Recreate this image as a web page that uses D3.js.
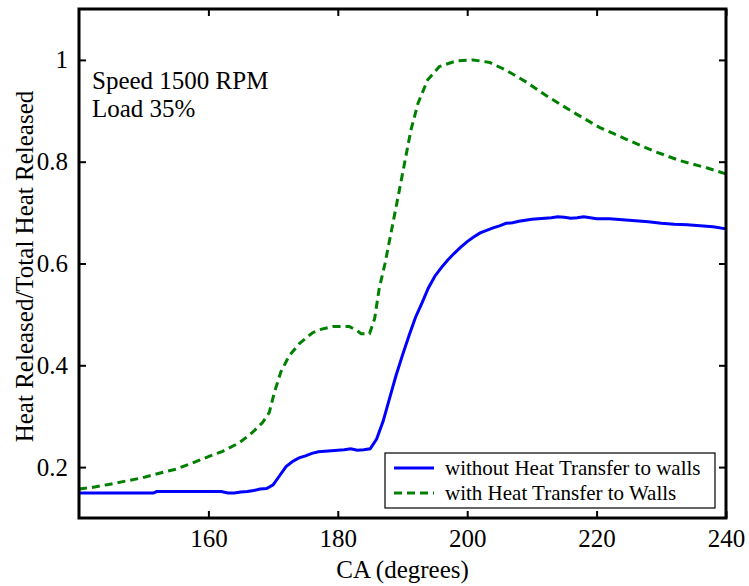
<!DOCTYPE html>
<html>
<head>
<meta charset="utf-8">
<script src="https://cdn.jsdelivr.net/npm/d3@7"></script>
<style>
  body { margin: 0; background: #fff; }
  text { font-family: "Liberation Serif", "Times New Roman", serif; }
</style>
</head>
<body>
<div id="chart"></div>
<script>
// crank angle (degrees) and normalised heat released
const caNoHT = [140, 145, 151.5, 152, 157, 162, 163, 164, 165, 166, 167, 168, 169, 170, 171, 172, 173, 174, 175, 176, 177, 178, 179, 180, 181, 182, 183, 184, 185, 186, 187, 188, 189, 190, 191, 192, 193, 194, 195, 196, 197, 198, 199, 200, 201, 202, 203, 204, 205, 206, 207, 208, 210, 212, 213, 214, 215, 216, 217, 218, 219, 220, 222, 224, 226, 228, 230, 232, 234, 236, 238, 240];
const hrNoHT = [0.149, 0.149, 0.149, 0.152, 0.152, 0.152, 0.149, 0.149, 0.151, 0.152, 0.154, 0.157, 0.158, 0.165, 0.183, 0.201, 0.211, 0.218, 0.222, 0.227, 0.230, 0.231, 0.232, 0.233, 0.234, 0.236, 0.233, 0.234, 0.236, 0.255, 0.290, 0.335, 0.380, 0.420, 0.458, 0.494, 0.522, 0.552, 0.575, 0.592, 0.607, 0.620, 0.632, 0.643, 0.652, 0.660, 0.665, 0.670, 0.674, 0.679, 0.680, 0.683, 0.687, 0.689, 0.690, 0.692, 0.691, 0.689, 0.690, 0.692, 0.690, 0.688, 0.688, 0.686, 0.684, 0.682, 0.679, 0.677, 0.676, 0.674, 0.672, 0.668];

const caHT = [140, 142, 144.6, 147, 149.8, 152.4, 155, 157.5, 160.1, 162.2, 164.8, 166.8, 168.4, 169.4, 170.2, 171.2, 172.5, 174.1, 176.1, 177.5, 179.2, 181.8, 183, 183.6, 184.9, 185.7, 186.4, 187.3, 188.3, 189.3, 190.3, 191.3, 192.4, 193.9, 195.7, 198.3, 200.9, 203.5, 206.1, 209.2, 212.3, 216.4, 220.5, 224.6, 228.8, 232.9, 237, 240];
const hrHT = [0.157, 0.160, 0.166, 0.172, 0.179, 0.188, 0.196, 0.208, 0.221, 0.231, 0.248, 0.268, 0.288, 0.307, 0.347, 0.387, 0.419, 0.443, 0.464, 0.471, 0.476, 0.476, 0.468, 0.462, 0.462, 0.492, 0.551, 0.600, 0.665, 0.730, 0.796, 0.862, 0.915, 0.961, 0.987, 0.998, 1.000, 0.995, 0.979, 0.956, 0.929, 0.897, 0.867, 0.844, 0.821, 0.802, 0.788, 0.776];

const xTicks = [160, 180, 200, 220, 240];
const yTicks = [0.2, 0.4, 0.6, 0.8, 1];
const seriesNames = ["without Heat Transfer to walls", "with Heat Transfer to Walls"];

const W = 749, H = 586;
const margin = { top: 9, right: 23, bottom: 68, left: 79 };
const width = W - margin.left - margin.right,
  height = H - margin.top - margin.bottom;
const serif = '"Liberation Serif", "Times New Roman", serif';

const svg = d3.select("#chart").append("svg")
  .attr("width", W).attr("height", H);
const g = svg.append("g")
  .attr("transform", "translate(" + margin.left + "," + margin.top + ")");

const x = d3.scaleLinear().domain([140, 240]).range([0, width]);
const y = d3.scaleLinear().domain([0.1, 1.1]).range([height, 0]);

// curves
const line = d3.line().x(d => x(d[0])).y(d => y(d[1]));

g.append("path")
  .datum(d3.zip(caNoHT, hrNoHT))
  .attr("fill", "none")
  .attr("stroke", "#0000ff")
  .attr("stroke-width", 3)
  .attr("d", line);

g.append("path")
  .datum(d3.zip(caHT, hrHT))
  .attr("fill", "none")
  .attr("stroke", "#008000")
  .attr("stroke-width", 3)
  .attr("stroke-dasharray", "8,5")
  .attr("d", line);

// axes, ticks pointing inward on all four sides
const styleAxis = sel => {
  sel.attr("font-family", serif).attr("font-size", 25);
  sel.select(".domain").remove();
  sel.selectAll("line").attr("stroke", "#000").attr("stroke-width", 2);
  sel.selectAll("text").attr("fill", "#000");
};

g.append("g")
  .attr("transform", "translate(0," + height + ")")
  .call(d3.axisBottom(x).tickValues(xTicks).tickSize(-7).tickPadding(11).tickFormat(d3.format("d")))
  .call(styleAxis);
g.append("g")
  .call(d3.axisTop(x).tickValues(xTicks).tickSize(-7).tickFormat(""))
  .call(styleAxis);
g.append("g")
  .call(d3.axisLeft(y).tickValues(yTicks).tickSize(-7).tickPadding(11).tickFormat(d => d === 1 ? "1" : d3.format(".1f")(d)))
  .call(styleAxis);
g.append("g")
  .attr("transform", "translate(" + width + ",0)")
  .call(d3.axisRight(y).tickValues(yTicks).tickSize(-7).tickFormat(""))
  .call(styleAxis);

// frame
g.append("rect")
  .attr("width", width).attr("height", height)
  .attr("fill", "none").attr("stroke", "#000").attr("stroke-width", 3);

// axis titles
svg.append("text")
  .attr("x", margin.left + width / 2).attr("y", 578)
  .attr("text-anchor", "middle").attr("font-size", 25)
  .text("CA (degrees)");
svg.append("text")
  .attr("transform", "translate(33," + (margin.top + height / 2 + 3) + ") rotate(-90)")
  .attr("text-anchor", "middle").attr("font-size", 25)
  .text("Heat Released/Total Heat Released");

// annotation
g.append("text").attr("x", 13).attr("y", 80).attr("font-size", 25).text("Speed 1500 RPM");
g.append("text").attr("x", 13).attr("y", 108).attr("font-size", 25).text("Load 35%");

// legend
const leg = g.append("g").attr("transform", "translate(" + (385 - margin.left) + "," + (453 - margin.top) + ")");
leg.append("rect")
  .attr("width", 330).attr("height", 55)
  .attr("fill", "#fff").attr("stroke", "#000").attr("stroke-width", 1.2);
const legStyles = [
  { color: "#0000ff", dash: null },
  { color: "#008000", dash: "8,5" }
];
seriesNames.forEach((name, i) => {
  const yy = 15 + i * 25;
  leg.append("line")
    .attr("x1", 9).attr("x2", 49).attr("y1", yy).attr("y2", yy)
    .attr("stroke", legStyles[i].color).attr("stroke-width", 3)
    .attr("stroke-dasharray", legStyles[i].dash);
  leg.append("text")
    .attr("x", 60).attr("y", yy + 7).attr("font-size", 21)
    .text(name);
});
</script>
</body>
</html>
